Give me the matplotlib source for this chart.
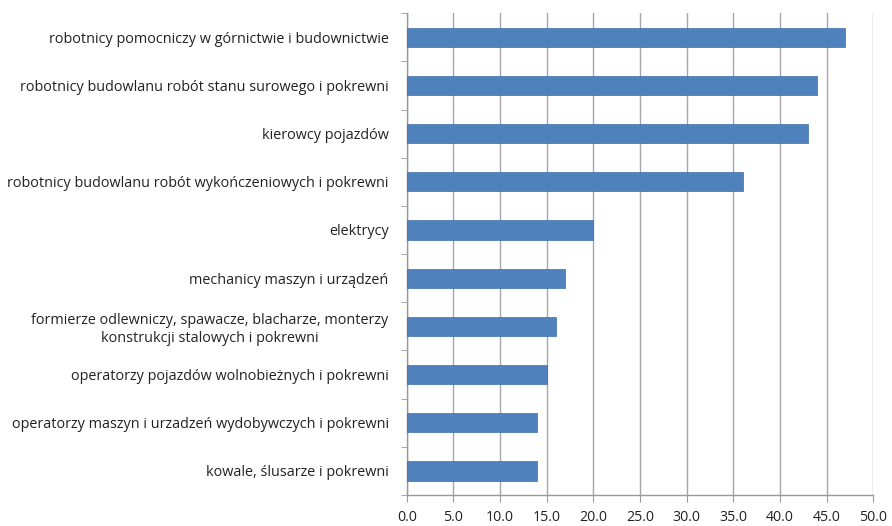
import matplotlib
matplotlib.use("Agg")
import matplotlib.pyplot as plt
import numpy as np

categories = [
    "robotnicy pomocniczy w górnictwie i budownictwie",
    "robotnicy budowlanu robót stanu surowego i pokrewni",
    "kierowcy pojazdów",
    "robotnicy budowlanu robót wykończeniowych i pokrewni",
    "elektrycy",
    "mechanicy maszyn i urządzeń",
    "formierze odlewniczy, spawacze, blacharze, monterzy\nkonstrukcji stalowych i pokrewni",
    "operatorzy pojazdów wolnobieżnych i pokrewni",
    "operatorzy maszyn i urzadzeń wydobywczych i pokrewni",
    "kowale, ślusarze i pokrewni",
]
values = [47, 44, 43, 36, 20, 17, 16, 15, 14, 14]
xticks = [0, 5, 10, 15, 20, 25, 30, 35, 40, 45, 50]
xticklabels = ["0.0", "5.0", "10.0", "15.0", "20.0", "25.0", "30.0", "35.0", "40.0", "45.0", "50.0"]

plt.rcParams['font.family'] = ['Open Sans', 'DejaVu Sans']

fig = plt.figure(figsize=(8.92, 5.26), dpi=100)
ax = fig.add_axes([0.456, 0.059, 0.523, 0.916])

y = np.arange(len(categories))
ax.barh(y, values, height=0.4, color="#4F81BD", edgecolor="#3E6FA8", linewidth=0.5, zorder=3)
ax.set_ylim(len(categories) - 0.5, -0.5)
ax.set_xlim(0, 50)

ax.set_xticks(xticks)
ax.set_xticklabels(xticklabels, fontsize=10.2, color="#222222")
ax.set_yticks(y)
ax.set_yticklabels(categories, fontsize=10.4, color="#222222", multialignment="center",
                   linespacing=1.25)
ax.tick_params(axis='y', length=0, pad=13)
ax.set_yticks(np.arange(-0.5, len(categories) + 0.5, 1), minor=True)
ax.tick_params(axis='y', which='minor', length=4, color="#999999", direction='out')
ax.tick_params(axis='x', length=5, color="#999999", direction='out', pad=6)

ax.grid(axis='x', color="#A6A6A6", linewidth=1.0, zorder=0)
for s in ['top', 'right']:
    ax.spines[s].set_visible(False)
for s in ['left', 'bottom']:
    ax.spines[s].set_color("#999999")
    ax.spines[s].set_linewidth(1.0)

fig.savefig("out.png", dpi=100, facecolor="white")
